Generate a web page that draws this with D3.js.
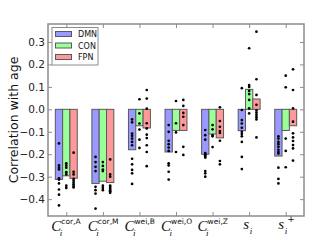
<!DOCTYPE html>
<html>
<head>
<meta charset="utf-8">
<script src="https://cdn.jsdelivr.net/npm/d3@7"></script>
<style>
  body { margin: 0; background: #fff; }
  svg { display: block; }
</style>
</head>
<body>
<svg width="320" height="240"></svg>
<script>
// categories (x groups) and their label pieces
const categories = ['cor,A', 'cor,M', 'wei,B', 'wei,O', 'wei,Z', 's', 's+'];
const networks = ['DMN', 'CON', 'FPN'];
const yTicks = [0.3, 0.2, 0.1, 0.0, -0.1, -0.2, -0.3, -0.4];

// bar heights (mean correlation) per network
const dmnBars = [-0.312, -0.330, -0.180, -0.190, -0.200, -0.095, -0.208];
const conBars = [-0.296, -0.320, -0.073, -0.094, -0.110, 0.089, -0.094];
const fpnBars = [-0.307, -0.326, -0.083, -0.094, -0.127, 0.046, -0.073];

// individual points per network, one list per category
const dmnDots = [
    [-0.152, -0.25, -0.26, -0.268, -0.307, -0.313, -0.33, -0.357, -0.38, -0.428],
    [-0.212, -0.235, -0.256, -0.275, -0.345, -0.36, -0.375, -0.442],
    [-0.045, -0.058, -0.108, -0.118, -0.13, -0.145, -0.16, -0.22, -0.245, -0.27, -0.285, -0.332],
    [-0.07, -0.1, -0.14, -0.155, -0.17, -0.185, -0.24, -0.25, -0.278, -0.313],
    [-0.092, -0.115, -0.135, -0.195, -0.2, -0.205, -0.21, -0.215, -0.275, -0.285, -0.3],
    [0.094, -0.003, -0.048, -0.063, -0.082, -0.1, -0.11, -0.12, -0.145, -0.212, -0.266],
    [-0.12, -0.13, -0.145, -0.155, -0.167, -0.18, -0.19, -0.197, -0.26, -0.31, -0.33]
];
const conDots = [
    [-0.24, -0.25, -0.26, -0.28, -0.29, -0.34, -0.35],
    [-0.235, -0.252, -0.268, -0.275, -0.34, -0.35, -0.36],
    [0.045, -0.018, -0.063, -0.09, -0.135, -0.172],
    [0.037, -0.062, -0.103, -0.19],
    [-0.07, -0.089, -0.115, -0.12, -0.168],
    [0.272, 0.108, 0.1, 0.082, 0.068, 0.042, 0.004, -0.018],
    [0.15, 0.098, -0.13, -0.185, -0.258]
];
const fpnDots = [
    [-0.193, -0.278, -0.29, -0.31, -0.318, -0.326, -0.334, -0.342, -0.348],
    [-0.223, -0.29, -0.30, -0.34, -0.345, -0.352, -0.36, -0.365, -0.372],
    [0.086, 0.048, 0.003, -0.062, -0.085, -0.113, -0.128, -0.16, -0.19, -0.253],
    [0.042, 0.015, -0.016, -0.033, -0.07, -0.167, -0.203],
    [0.009, -0.052, -0.078, -0.097, -0.105, -0.14, -0.23, -0.245],
    [0.346, 0.134, 0.064, 0.02, -0.005, -0.015, -0.025, -0.035, -0.045, -0.125],
    [0.178, 0.086, 0.004, -0.055, -0.107, -0.125, -0.141, -0.159, -0.174, -0.228]
];

const colors = {DMN: '#9999ff', CON: '#99ff99', FPN: '#ff9999'};
const barsByNet = {DMN: dmnBars, CON: conBars, FPN: fpnBars};
const dotsByNet = {DMN: dmnDots, CON: conDots, FPN: fpnDots};

const plotLeft = 48, plotRight = 304, plotTop = 24, plotBottom = 216;
const frameColor = '#8c8c8c';
const svg = d3.select('svg');

const xScale = d3.scaleLinear()
    .domain([-0.5, categories.length - 0.5])
    .range([plotLeft, plotRight]);

const yScale = d3.scaleLinear()
    .domain([-0.475, 0.38])
    .range([plotBottom, plotTop]);

const barW = 0.2;
const offset = {DMN: -0.2, CON: 0, FPN: 0.2};

// bars
networks.forEach(net => {
    svg.append('g')
        .selectAll('rect')
        .data(barsByNet[net])
        .join('rect')
        .attr('x', (d, i) => xScale(i + offset[net] - barW / 2))
        .attr('y', d => yScale(Math.max(0, d)))
        .attr('width', xScale(barW) - xScale(0))
        .attr('height', d => Math.abs(yScale(d) - yScale(0)))
        .attr('fill', colors[net])
        .attr('stroke', '#5a5a5a')
        .attr('stroke-width', 1);
});

// dots
networks.forEach(net => {
    const pts = [];
    dotsByNet[net].forEach((list, i) => list.forEach(v => pts.push({i: i, v: v})));
    svg.append('g')
        .selectAll('circle')
        .data(pts)
        .join('circle')
        .attr('cx', d => xScale(d.i + offset[net]))
        .attr('cy', d => yScale(d.v))
        .attr('r', 1.35)
        .attr('fill', '#000');
});

// frame
svg.append('rect')
    .attr('x', plotLeft)
    .attr('y', plotTop)
    .attr('width', plotRight - plotLeft)
    .attr('height', plotBottom - plotTop)
    .attr('fill', 'none')
    .attr('stroke', frameColor)
    .attr('stroke-width', 1.5);

// y axis, ticks pointing inside
let yAxis = svg.append('g')
    .attr('transform', `translate(${plotLeft},0)`)
    .call(d3.axisLeft(yScale).tickValues(yTicks).tickSize(-4).tickPadding(3)
        .tickFormat(d => (d < 0 ? '\u2212' : '') + Math.abs(d).toFixed(1)));
yAxis.select('.domain').remove();
yAxis.selectAll('.tick line').attr('stroke', frameColor);
yAxis.selectAll('.tick text')
    .attr('font-size', 10.5)
    .attr('font-family', 'DejaVu Sans')
    .attr('fill', '#222');

let yRight = svg.append('g')
    .attr('transform', `translate(${plotRight},0)`)
    .call(d3.axisRight(yScale).tickValues(yTicks).tickSize(-4).tickFormat(''));
yRight.select('.domain').remove();
yRight.selectAll('.tick line').attr('stroke', frameColor);

// x ticks top and bottom
const xTicks = d3.range(categories.length);
let xTop = svg.append('g')
    .attr('transform', `translate(0,${plotTop})`)
    .call(d3.axisTop(xScale).tickValues(xTicks).tickSize(-4).tickFormat(''));
xTop.select('.domain').remove();
xTop.selectAll('.tick line').attr('stroke', frameColor);

let xBottom = svg.append('g')
    .attr('transform', `translate(0,${plotBottom})`)
    .call(d3.axisBottom(xScale).tickValues(xTicks).tickSize(-4).tickFormat(''));
xBottom.select('.domain').remove();
xBottom.selectAll('.tick line').attr('stroke', frameColor);

// x labels (math style)
const serif = 'Liberation Serif';
categories.forEach((c, i) => {
    const cx = xScale(i);
    const g = svg.append('g').attr('fill', '#111');
    if (c === 's' || c === 's+') {
        const sx = c === 's' ? cx - 6 : cx - 7.5;
        g.append('text').attr('x', sx).attr('y', 228.5)
            .attr('font-family', serif).attr('font-style', 'italic').attr('font-size', 15)
            .text('s');
        g.append('text').attr('x', sx + 6.5).attr('y', 234)
            .attr('font-family', serif).attr('font-style', 'italic').attr('font-size', 9)
            .text('i');
        if (c === 's+') {
            g.append('text').attr('x', sx + 9).attr('y', 221.5)
                .attr('font-family', 'DejaVu Sans').attr('font-size', 9)
                .text('+');
        }
    } else {
        const sx = cx - 15;
        g.append('text').attr('x', sx).attr('y', 231)
            .attr('font-family', serif).attr('font-style', 'italic').attr('font-size', 15)
            .text('C');
        g.append('text').attr('x', sx + 8.5).attr('y', 236)
            .attr('font-family', serif).attr('font-style', 'italic').attr('font-size', 9)
            .text('i');
        g.append('text').attr('x', sx + 10).attr('y', 224)
            .attr('font-family', 'DejaVu Sans').attr('font-size', 7.5)
            .text(c);
    }
});

// y label
svg.append('text')
    .attr('transform', `translate(18,120) rotate(-90)`)
    .attr('text-anchor', 'middle')
    .attr('font-family', 'DejaVu Sans')
    .attr('font-size', 12.5)
    .attr('fill', '#111')
    .text('Correlation with age');

// legend
const legend = svg.append('g');
legend.append('rect')
    .attr('x', 52).attr('y', 27.5)
    .attr('width', 46).attr('height', 37.5)
    .attr('fill', '#fff')
    .attr('stroke', frameColor)
    .attr('stroke-width', 1);
networks.forEach((net, k) => {
    const ly = 34 + k * 11.5;
    legend.append('rect')
        .attr('x', 55.5).attr('y', ly - 2.5)
        .attr('width', 16).attr('height', 5)
        .attr('fill', colors[net])
        .attr('stroke', '#5a5a5a')
        .attr('stroke-width', 1);
    legend.append('text')
        .attr('x', 78).attr('y', ly + 3)
        .attr('font-family', 'DejaVu Sans')
        .attr('font-size', 8)
        .attr('fill', '#111')
        .text(net);
});
</script>
</body>
</html>
